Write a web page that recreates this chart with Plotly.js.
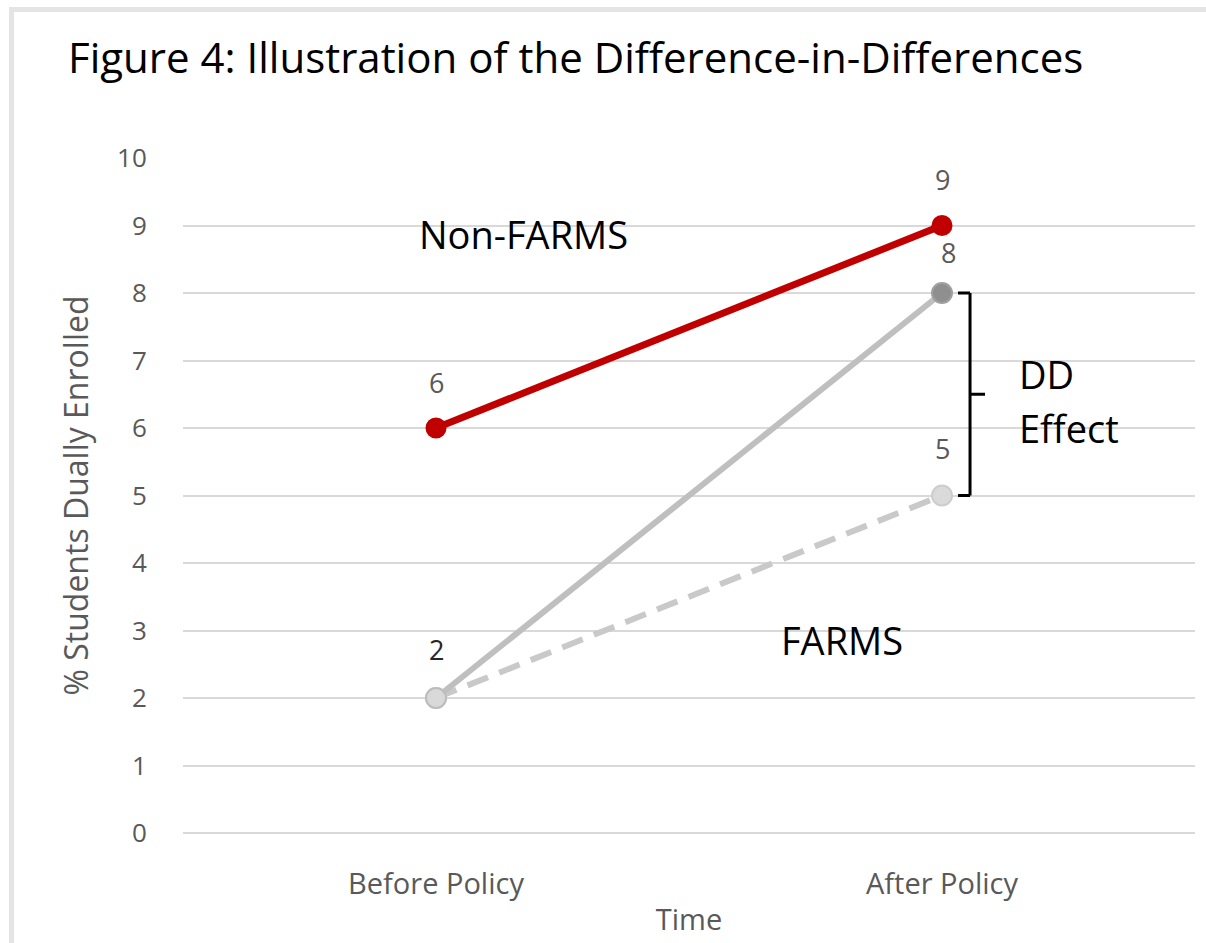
<!DOCTYPE html>
<html>
<head>
<meta charset="utf-8">
<script src="https://cdn.plot.ly/plotly-3.0.1.min.js"></script>
<style>
  html, body { margin: 0; padding: 0; background: #fff; }
  #frame { position: absolute; left: 9px; top: 7px; width: 1197px; height: 936px;
           border-top: 5px solid #e4e4e4; border-left: 5px solid #e4e4e4; box-sizing: border-box; }
  #chart { position: absolute; left: 0; top: 0; width: 1206px; height: 943px; }
</style>
</head>
<body>
<div id="frame"></div>
<div id="chart"></div>
<script>
// Periods on the x axis
const periods = ["Before Policy", "After Policy"];
// % of students dually enrolled
const nonFarms = [6, 9];
const farms = [2, 8];
const farmsCounterfactual = [2, 5];
const yTicks = [0, 1, 2, 3, 4, 5, 6, 7, 8, 9, 10];

const FONT = "Open Sans, Noto Sans, sans-serif";
const GREY_TEXT = "#595959";

const traces = [
  {
    x: periods, y: farmsCounterfactual, type: "scatter", mode: "lines+markers",
    line: { color: "#c9c9c9", width: 6, dash: "22px,12px" },
    marker: { size: 20, color: "#dadada", line: { color: "#cdcdcd", width: 2 } },
    hoverinfo: "skip"
  },
  {
    x: periods, y: farms, type: "scatter", mode: "lines+markers",
    line: { color: "#bfbfbf", width: 6 },
    marker: { size: 20, color: ["#d9d9d9", "#8f8f8f"], line: { color: ["#bdbdbd", "#a0a0a0"], width: 2 } },
    hoverinfo: "skip"
  },
  {
    x: periods, y: nonFarms, type: "scatter", mode: "lines+markers",
    line: { color: "#c00000", width: 7 },
    marker: { size: 21, color: "#c00000" },
    hoverinfo: "skip"
  }
];

// Value labels above each point
function valueLabel(x, y, color, xshift, yshift) {
  return { x: x, y: y, xref: "x", yref: "y", text: String(y), showarrow: false,
           xshift: xshift, yshift: yshift, font: { family: FONT, size: 27, color: color } };
}

const annotations = [
  valueLabel(periods[0], nonFarms[0], GREY_TEXT, 0, 46),
  valueLabel(periods[1], nonFarms[1], GREY_TEXT, 0, 46),
  valueLabel(periods[1], farms[1], GREY_TEXT, 6, 41),
  valueLabel(periods[1], farmsCounterfactual[1], GREY_TEXT, 0, 47),
  valueLabel(periods[0], farms[0], "#262626", 0, 49),
  { x: 0.336, y: 8.87, xref: "paper", yref: "y", text: "Non-FARMS", showarrow: false,
    font: { family: FONT, size: 38, color: "#000" } },
  { x: 0.651, y: 2.86, xref: "paper", yref: "y", text: "FARMS", showarrow: false,
    font: { family: FONT, size: 38, color: "#000" } },
  { x: 0.8241, y: 6.8, xref: "paper", yref: "y", text: "DD", showarrow: false, xanchor: "left",
    font: { family: FONT, size: 38, color: "#000" } },
  { x: 0.8241, y: 6.0, xref: "paper", yref: "y", text: "Effect", showarrow: false, xanchor: "left",
    font: { family: FONT, size: 38, color: "#000" } }
];

// Bracket spanning the difference-in-differences gap
const bx = 0.7777, bxIn = 0.7658, bxOut = 0.7925;
const yTop = farms[1], yBot = farmsCounterfactual[1], yMid = (yTop + yBot) / 2;
const bracket = { color: "#000", width: 3 };
const shapes = [
  { type: "line", xref: "paper", yref: "y", x0: bxIn, x1: bx, y0: yTop, y1: yTop, line: bracket },
  { type: "line", xref: "paper", yref: "y", x0: bx, x1: bx, y0: yTop, y1: yBot, line: bracket },
  { type: "line", xref: "paper", yref: "y", x0: bxIn, x1: bx, y0: yBot, y1: yBot, line: bracket },
  { type: "line", xref: "paper", yref: "y", x0: bx, x1: bxOut, y0: yMid, y1: yMid, line: bracket }
];

const layout = {
  width: 1206, height: 943,
  paper_bgcolor: "rgba(0,0,0,0)", plot_bgcolor: "rgba(0,0,0,0)",
  margin: { l: 183, r: 11, t: 158, b: 110 },
  showlegend: false,
  title: {
    text: "Figure 4: Illustration of the Difference-in-Differences",
    xref: "container", yref: "container", x: 68 / 1206, xanchor: "left",
    y: 1 - 58 / 943, yanchor: "middle",
    font: { family: FONT, size: 42, color: "#000" }
  },
  xaxis: {
    type: "category", categoryorder: "array", categoryarray: periods, range: [-0.5, 1.5],
    showgrid: false, zeroline: false, showline: false,
    ticks: "outside", ticklen: 25, tickcolor: "rgba(0,0,0,0)",
    tickfont: { family: FONT, size: 29, color: GREY_TEXT },
    title: { text: "Time", standoff: 8, font: { family: FONT, size: 29, color: GREY_TEXT } }
  },
  yaxis: {
    range: [0, 10], tickvals: yTicks, ticktext: yTicks.map(String),
    showgrid: true, gridcolor: "#d9d9d9", gridwidth: 2,
    zeroline: true, zerolinecolor: "#d9d9d9", zerolinewidth: 2, showline: false,
    ticks: "outside", ticklen: 30, tickcolor: "rgba(0,0,0,0)",
    tickfont: { family: FONT, size: 26, color: GREY_TEXT },
    title: { text: "% Students Dually Enrolled", standoff: 18, font: { family: FONT, size: 32, color: GREY_TEXT } }
  },
  annotations: annotations,
  shapes: shapes
};

Plotly.newPlot("chart", traces, layout, { displayModeBar: false, staticPlot: true });
</script>
</body>
</html>
